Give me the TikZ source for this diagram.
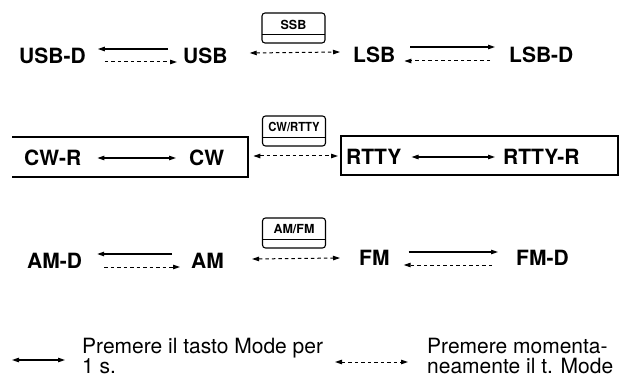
\documentclass[tikz,border=0pt]{standalone}
\usepackage{fontspec}
\setmainfont{TeX Gyre Heros}
\usetikzlibrary{arrows.meta}
\begin{document}
\begin{tikzpicture}[x=1pt,y=-1pt,
  lbl/.style={font=\fontsize{21}{24}\selectfont\bfseries, inner sep=0pt, anchor=west},
  keytxt/.style={font=\fontsize{12.5}{13}\selectfont\bfseries, inner sep=0pt},
  keyframe/.style={draw, line width=1.1pt, rounded corners=3pt, minimum width=63pt,
    minimum height=30pt, inner sep=0pt,
    path picture={\draw[line width=0.8pt] ([yshift=9pt]path picture bounding box.south west)
      -- ([yshift=9pt]path picture bounding box.south east);}},
  solidarrow/.style={line width=1.1pt, -{Triangle[length=7pt,width=4.5pt]}},
  dasharrow/.style={line width=1pt, dash pattern=on 3.5pt off 3pt, -{Triangle[length=7pt,width=4.5pt]}},
  soliddouble/.style={line width=1.1pt, {Triangle[length=7pt,width=4.5pt]}-{Triangle[length=7pt,width=4.5pt]}},
  dashdouble/.style={line width=1pt, dash pattern=on 3.5pt off 3pt, {Triangle[length=7pt,width=4.5pt]}-{Triangle[length=7pt,width=4.5pt]}},
  boxline/.style={line width=1.1pt},
  legtxt/.style={font=\fontsize{21}{19.5}\selectfont, align=left, inner sep=0pt, anchor=north west}
]
\useasboundingbox (0,0) rectangle (621,377);

% ---------- Row 1 ----------
\node[lbl] (usbd) at (19,56) {USB-D};
\node[lbl] (usb)  at (183,56) {USB};
\node[lbl] (lsb)  at (353,55) {LSB};
\node[lbl] (lsbd) at (509,55) {LSB-D};
\node[keyframe] (ssbkey) at (293.5,28) {};
\node[keytxt] (ssbtxt) at ([yshift=3.5pt]ssbkey.center) {SSB};

\draw[solidarrow] ([xshift=-15pt,yshift=7pt]usb.west) -- ([xshift=12pt,yshift=7pt]usbd.east);
\draw[dasharrow]  ([xshift=19pt,yshift=-6pt]usbd.east) -- ([xshift=-6pt,yshift=-6pt]usb.west);
\draw[dashdouble] ([xshift=22pt,yshift=3pt]usb.east) -- ([xshift=-13pt,yshift=3pt]lsb.west);
\draw[solidarrow] ([xshift=15pt,yshift=8pt]lsb.east) -- ([xshift=-14pt,yshift=8pt]lsbd.west);
\draw[dasharrow]  ([xshift=-19pt,yshift=-6pt]lsbd.west) -- ([xshift=9pt,yshift=-6pt]lsb.east);

% ---------- Row 2 ----------
\draw[boxline] (12,137) -- (248,137) -- (248,177) -- (12,177);
\draw[boxline] (341,136) rectangle (618,175);
\node[lbl] (cwr)   at (24,158) {CW-R};
\node[lbl] (cw)    at (189,158) {CW};
\node[lbl] (rtty)  at (346,157) {RTTY};
\node[lbl] (rttyr) at (503,157) {RTTY-R};
\node[keyframe] (cwkey) at (294,131) {};
\node[keytxt] (cwtxt) at ([yshift=4pt]cwkey.center) {\scalebox{0.9}[1]{CW/RTTY}};

\draw[soliddouble] ([xshift=16pt]cwr.east) -- ([xshift=-13pt]cw.west);
\draw[dashdouble]  ([xshift=29pt,yshift=2pt]cw.east) -- ([xshift=-8pt,yshift=1pt]rtty.west);
\draw[soliddouble] ([xshift=10pt]rtty.east) -- ([xshift=-8pt]rttyr.west);

% ---------- Row 3 ----------
\node[lbl] (amd) at (27,261) {AM-D};
\node[lbl] (am)  at (191,261) {AM};
\node[lbl] (fm)  at (359,258) {FM};
\node[lbl] (fmd) at (516,258) {FM-D};
\node[keyframe] (amkey) at (294,233) {};
\node[keytxt] (amtxt) at ([yshift=3.5pt]amkey.center) {AM/FM};

\draw[solidarrow] ([xshift=-19pt,yshift=7pt]am.west) -- ([xshift=15pt,yshift=7pt]amd.east);
\draw[dasharrow]  ([xshift=22pt,yshift=-6pt]amd.east) -- ([xshift=-11pt,yshift=-6pt]am.west);
\draw[dashdouble] ([xshift=28pt,yshift=2pt]am.east) -- ([xshift=-19pt]fm.west);
\draw[solidarrow] ([xshift=19pt,yshift=6pt]fm.east) -- ([xshift=-18pt,yshift=6pt]fmd.west);
\draw[dasharrow]  ([xshift=-24pt,yshift=-7pt]fmd.west) -- ([xshift=14pt,yshift=-7pt]fm.east);

% ---------- Legend ----------
\coordinate (la) at (12,360);
\coordinate (lb) at (65,360);
\draw[soliddouble] (la) -- (lb);
\node[legtxt] (leg1) at (82,338) {Premere il tasto Mode per\\1 s.};
\coordinate (lc) at (335,362);
\coordinate (ld) at (408,362);
\draw[dashdouble] (lc) -- (ld);
\node[legtxt] (leg2) at (427,338) {Premere momenta-\\neamente il t. Mode};
\end{tikzpicture}
\end{document}
